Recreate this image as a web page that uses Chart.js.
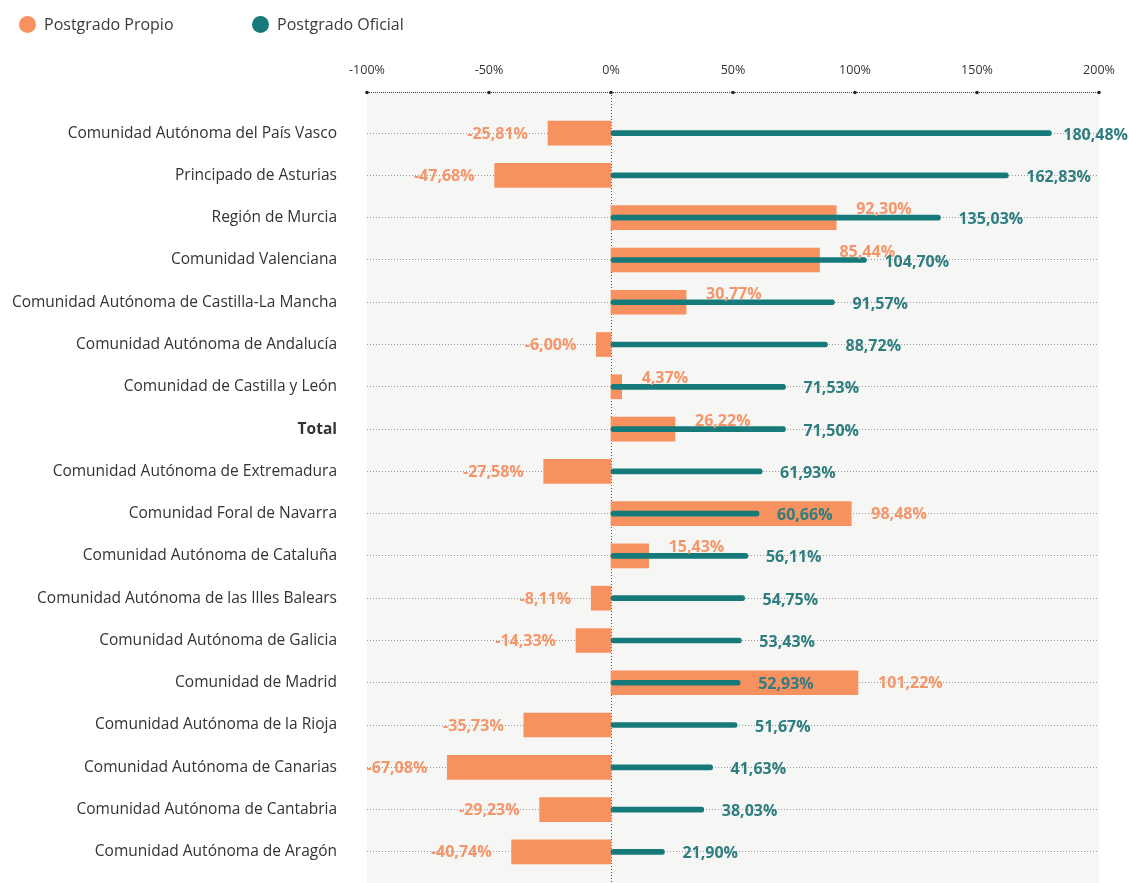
<!DOCTYPE html>
<html>
<head>
<meta charset="utf-8">
<script src="https://cdn.jsdelivr.net/npm/chart.js@4.4.1/dist/chart.umd.min.js"></script>
<style>
  html, body { margin:0; padding:0; background:#ffffff; }
  #wrap { position:relative; width:1129px; height:883px; font-family:"Open Sans", sans-serif; }
  #chart { position:absolute; left:0; top:0; }
  .lg { position:absolute; top:12px; height:24px; display:flex; align-items:center; font-size:16px; color:#3a3a3a; }
  .lg span.dot { display:inline-block; width:17px; height:17px; border-radius:50%; margin-right:8px; }
</style>
</head>
<body>
<div id="wrap">
  <canvas id="chart" width="1129" height="883"></canvas>
  <div class="lg" style="left:19px;"><span class="dot" style="background:#f7915f"></span>Postgrado Propio</div>
  <div class="lg" style="left:252px;"><span class="dot" style="background:#167a7b"></span>Postgrado Oficial</div>
</div>
<script>
const categories = [
  "Comunidad Autónoma del País Vasco",
  "Principado de Asturias",
  "Región de Murcia",
  "Comunidad Valenciana",
  "Comunidad Autónoma de Castilla-La Mancha",
  "Comunidad Autónoma de Andalucía",
  "Comunidad de Castilla y León",
  "Total",
  "Comunidad Autónoma de Extremadura",
  "Comunidad Foral de Navarra",
  "Comunidad Autónoma de Cataluña",
  "Comunidad Autónoma de las Illes Balears",
  "Comunidad Autónoma de Galicia",
  "Comunidad de Madrid",
  "Comunidad Autónoma de la Rioja",
  "Comunidad Autónoma de Canarias",
  "Comunidad Autónoma de Cantabria",
  "Comunidad Autónoma de Aragón"
];
const propio = [-25.81, -47.68, 92.30, 85.44, 30.77, -6.00, 4.37, 26.22, -27.58, 98.48, 15.43, -8.11, -14.33, 101.22, -35.73, -67.08, -29.23, -40.74];
const oficial = [180.48, 162.83, 135.03, 104.70, 91.57, 88.72, 71.53, 71.50, 61.93, 60.66, 56.11, 54.75, 53.43, 52.93, 51.67, 41.63, 38.03, 21.90];
const tickValues = [-100, -50, 0, 50, 100, 150, 200];
const tickLabels = ["-100%", "-50%", "0%", "50%", "100%", "150%", "200%"];

const ORANGE = '#f7915f';
const ORANGE_TXT = '#f5956a';
const TEAL = '#167a7b';
const TEAL_TXT = '#2e7d80';
const FONT = '"Open Sans", sans-serif';

function fmt(v){ return v.toFixed(2).replace('.', ',') + '%'; }

const decoPlugin = {
  id: 'deco',
  beforeDraw(chart){
    const {ctx, chartArea:a} = chart;
    const top = a.top - 20;
    ctx.save();
    ctx.fillStyle = '#f6f6f4';
    ctx.fillRect(a.left, top, a.right - a.left, chart.height - top);
    ctx.restore();
  },
  beforeDatasetsDraw(chart){
    const {ctx, chartArea:a, scales:{x}} = chart;
    const zx = Math.round(x.getPixelForValue(0)) + 0.5;
    ctx.save();
    ctx.strokeStyle = '#555';
    ctx.lineWidth = 1;
    ctx.setLineDash([1, 2]);
    ctx.beginPath();
    ctx.moveTo(zx, a.top - 20);
    ctx.lineTo(zx, chart.height);
    ctx.stroke();
    ctx.restore();
  },
  afterDraw(chart){
    const {ctx, chartArea:a, scales:{x}} = chart;
    const y = a.top - 20 + 0.5;
    ctx.save();
    ctx.strokeStyle = '#444';
    ctx.lineWidth = 1;
    ctx.setLineDash([1, 1]);
    ctx.beginPath();
    ctx.moveTo(a.left, y);
    ctx.lineTo(a.right, y);
    ctx.stroke();
    ctx.setLineDash([]);
    ctx.fillStyle = '#222';
    tickValues.forEach(v => {
      ctx.beginPath();
      ctx.arc(x.getPixelForValue(v), y, 1.8, 0, Math.PI*2);
      ctx.fill();
    });
    ctx.restore();
  }
};

const labelPlugin = {
  id: 'vlabels',
  afterDatasetsDraw(chart){
    const {ctx} = chart;
    ctx.save();
    ctx.font = 'bold 16px ' + FONT;
    ctx.textBaseline = 'middle';
    const mo = chart.getDatasetMeta(0);
    mo.data.forEach((el, i) => {
      const v = propio[i];
      ctx.fillStyle = ORANGE_TXT;
      if (v < 0) {
        ctx.textAlign = 'right';
        ctx.fillText(fmt(v), el.x - 20, el.y + 1);
      } else {
        ctx.textAlign = 'left';
        const dy = oficial[i] > v ? -8 : 1;
        ctx.fillText(fmt(v), el.x + 20, el.y + dy);
      }
    });
    const mt = chart.getDatasetMeta(1);
    mt.data.forEach((el, i) => {
      const t = fmt(oficial[i]);
      const w = ctx.measureText(t).width;
      ctx.fillStyle = TEAL_TXT;
      ctx.textAlign = 'left';
      const tx = Math.min(el.x + 18, chart.width - w - 1);
      ctx.fillText(t, tx, el.y + 2);
    });
    ctx.restore();
  }
};

new Chart(document.getElementById('chart'), {
  type: 'bar',
  data: {
    labels: categories,
    datasets: [
      {
        label: 'Postgrado Propio',
        data: propio,
        backgroundColor: ORANGE,
        barThickness: 24,
        grouped: false,
        order: 1
      },
      {
        label: 'Postgrado Oficial',
        data: oficial,
        backgroundColor: TEAL,
        barThickness: 5,
        borderRadius: 3,
        borderSkipped: false,
        grouped: false,
        order: 0
      }
    ]
  },
  options: {
    indexAxis: 'y',
    responsive: false,
    animation: false,
    layout: { padding: { top: 0, right: 30, bottom: 10, left: 0 } },
    plugins: {
      legend: { display: false },
      tooltip: { enabled: false }
    },
    scales: {
      x: {
        position: 'top',
        min: -100,
        max: 200,
        afterBuildTicks(s){ s.ticks = tickValues.map(v => ({value: v})); },
        afterFit(s){ s.height = 112; s.paddingLeft = 0; s.paddingRight = 0; },
        ticks: {
          padding: 34,
          color: '#333',
          font: { size: 12.5, family: FONT },
          callback: (v) => tickLabels[tickValues.indexOf(v)]
        },
        grid: { display: false, drawTicks: false },
        border: { display: false }
      },
      y: {
        afterFit(s){ s.width = 367; s.paddingTop = 0; s.paddingBottom = 0; },
        ticks: {
          padding: 30,
          color: '#333',
          font: (c) => ({ size: 15.5, family: FONT, weight: (c.tick && c.tick.label === 'Total') ? 'bold' : 'normal' })
        },
        grid: {
          offset: false,
          drawTicks: false,
          color: '#9a9a9a',
          lineWidth: 1
        },
        border: { display: false, dash: [1, 2] }
      }
    }
  },
  plugins: [decoPlugin, labelPlugin]
});
</script>
</body>
</html>
